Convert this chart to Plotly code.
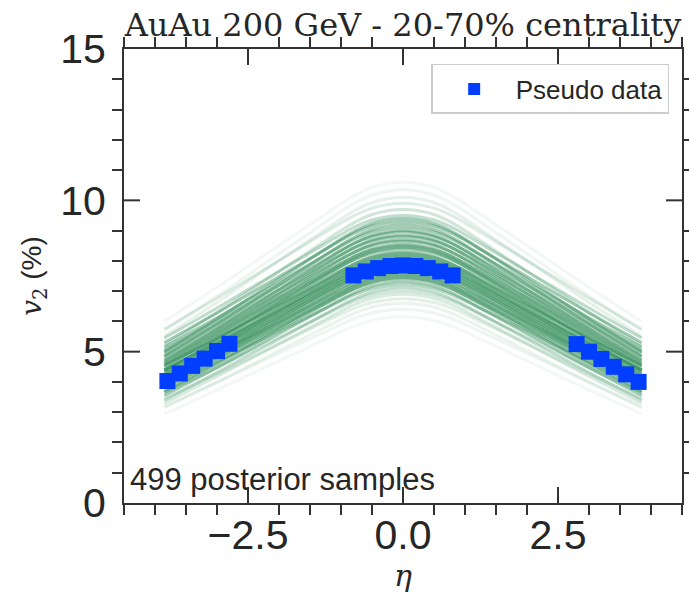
import plotly.graph_objects as go

# ---- data ----
# pseudo data points
data_eta = [-3.8, -3.6, -3.4, -3.2, -3.0, -2.8,
            -0.8, -0.6, -0.4, -0.2, 0.0, 0.2, 0.4, 0.6, 0.8,
            2.8, 3.0, 3.2, 3.4, 3.6, 3.8]
data_v2 = [4.03, 4.28, 4.53, 4.77, 5.02, 5.26,
           7.52, 7.65, 7.76, 7.83, 7.85, 7.83, 7.76, 7.65, 7.52,
           5.25, 5.0, 4.76, 4.5, 4.25, 4.0]

# median posterior profile (half, eta >= 0), mirrored for eta < 0
profile_eta = [0.0, 0.25, 0.5, 0.75, 1.0, 1.25, 1.5, 2.0, 2.5, 3.0, 3.5, 3.85]
profile_v2 = [8.1, 8.06, 7.95, 7.75, 7.48, 7.18, 6.88, 6.28, 5.68, 5.08, 4.5, 4.1]

# representative posterior samples: peak value (eta=0) and edge value (|eta|=3.85)
sample_peak = [10.6, 10.35, 10.1, 9.9, 9.7, 9.5, 9.4, 9.3, 9.2, 9.1, 9.0, 8.95, 8.85, 8.8,
               8.7, 8.65, 8.55, 8.5, 8.45, 8.4, 8.3, 8.25, 8.2, 8.15, 8.1, 8.05, 8.0, 7.95,
               7.9, 7.85, 7.8, 7.75, 7.7, 7.6, 7.55, 7.5, 7.45, 7.4, 7.3, 7.2, 7.1, 7.0,
               6.9, 6.75, 6.6, 6.4, 6.15]
sample_edge = [6.0, 5.7, 5.5, 5.75, 5.2, 5.45, 5.0, 5.3, 4.85, 5.15, 4.7, 5.05, 4.6, 4.95,
               4.5, 4.85, 4.4, 4.75, 4.35, 4.65, 4.25, 4.55, 4.15, 4.55, 4.1, 4.4, 4.0, 4.4,
               3.95, 4.3, 3.9, 4.2, 3.8, 4.1, 3.7, 4.05, 3.65, 3.95, 3.55, 3.85, 3.4, 3.65,
               3.3, 3.45, 3.15, 3.2, 2.95]
sample_alpha = [0.06, 0.08, 0.12, 0.16, 0.22, 0.3] + [0.45] * 33 + [0.35, 0.3, 0.22, 0.18, 0.14, 0.1, 0.08, 0.06]

# tick positions
x_major = [-2.5, 0.0, 2.5]
x_minor = [-4.5, -4.0, -3.5, -3.0, -2.0, -1.5, -1.0, -0.5, 0.5, 1.0, 1.5, 2.0, 3.0, 3.5, 4.0, 4.5]
y_major = [0, 5, 10, 15]
y_minor = [1, 2, 3, 4, 6, 7, 8, 9, 11, 12, 13, 14]
x_range = [-4.5, 4.5]
y_range = [0, 15]

GREEN = "46,139,87"
BLUE = "#023eff"
AX = "#333333"
TXT = "#262626"
SANS = "Liberation Sans, Arial, sans-serif"
SERIF = "DejaVu Serif, serif"
MAJOR_LEN = 16

full_eta = [-e for e in profile_eta[::-1]] + profile_eta[1:]
full_prof = profile_v2[::-1] + profile_v2[1:]
p0, pe = profile_v2[0], profile_v2[-1]
weights = [(v - pe) / (p0 - pe) for v in full_prof]

fig = go.Figure()
for pk, ed, al in zip(sample_peak, sample_edge, sample_alpha):
    fig.add_trace(go.Scatter(
        x=full_eta, y=[ed + (pk - ed) * w for w in weights],
        mode="lines", line=dict(color=f"rgba({GREEN},{al})", width=3, shape="spline"),
        showlegend=False, hoverinfo="skip"))

fig.add_trace(go.Scatter(
    x=data_eta, y=data_v2, mode="markers", name="Pseudo data",
    marker=dict(symbol="square", size=16, color=BLUE, line=dict(width=0))))

minor_x = dict(ticks="outside", tickvals=x_minor, ticklen=10, tickwidth=2, tickcolor=AX, showgrid=False)
minor_y = dict(ticks="outside", tickvals=y_minor, ticklen=10, tickwidth=2, tickcolor=AX, showgrid=False)

main_common = dict(
    showline=True, linecolor=AX, linewidth=2, mirror="allticks",
    ticks="", showgrid=False, zeroline=False, automargin=False,
    tickfont=dict(family=SANS, size=41, color=TXT),
)

fig.update_layout(
    xaxis=dict(range=x_range, tickvals=x_major, tickformat=".1f", minor=minor_x,
               title=dict(text="<i>η</i>", font=dict(family=SERIF, size=30, color=TXT), standoff=4),
               ticklabelstandoff=-5, **main_common),
    yaxis=dict(range=y_range, tickvals=y_major, minor=minor_y,
               title=dict(text="<span style='font-family:DejaVu Serif'><i>v</i><sub>2</sub></span> (%)",
                          font=dict(family=SANS, size=28, color=TXT), standoff=10),
               ticklabelstandoff=8, **main_common),
)

# inward major ticks, anchored at the tick values on the library's axes
tick_line = dict(color=AX, width=2)
shapes = []
for v in x_major:
    shapes.append(dict(type="line", xref="x", yref="y domain", ysizemode="pixel", yanchor=0,
                       x0=v, x1=v, y0=0, y1=MAJOR_LEN, line=tick_line, layer="above"))
    shapes.append(dict(type="line", xref="x", yref="y domain", ysizemode="pixel", yanchor=1,
                       x0=v, x1=v, y0=0, y1=-MAJOR_LEN, line=tick_line, layer="above"))
for v in y_major[1:-1]:
    shapes.append(dict(type="line", xref="x domain", yref="y", xsizemode="pixel", xanchor=0,
                       x0=0, x1=MAJOR_LEN, y0=v, y1=v, line=tick_line, layer="above"))
    shapes.append(dict(type="line", xref="x domain", yref="y", xsizemode="pixel", xanchor=1,
                       x0=0, x1=-MAJOR_LEN, y0=v, y1=v, line=tick_line, layer="above"))

fig.update_layout(
    width=689, height=597,
    margin=dict(l=124, r=7, t=49, b=94),
    plot_bgcolor="white", paper_bgcolor="white",
    shapes=shapes,
    title=dict(text="AuAu 200 GeV - 20-70% centrality", font=dict(family=SERIF, size=32, color=TXT),
               x=0.5, xref="paper", xanchor="center", y=1, yref="paper", yanchor="bottom",
               pad=dict(b=13)),
    legend=dict(x=0.977, y=0.967, xanchor="right", yanchor="top",
                bgcolor="white", bordercolor="#cccccc", borderwidth=1.5,
                font=dict(family=SANS, size=26, color=TXT), itemsizing="constant",
                itemwidth=73),
    annotations=[dict(text="499 posterior samples", x=0.008, y=0.008, xref="paper", yref="paper",
                      xanchor="left", yanchor="bottom", showarrow=False,
                      font=dict(family=SANS, size=31, color=TXT))],
)

fig.write_html("out.html")
